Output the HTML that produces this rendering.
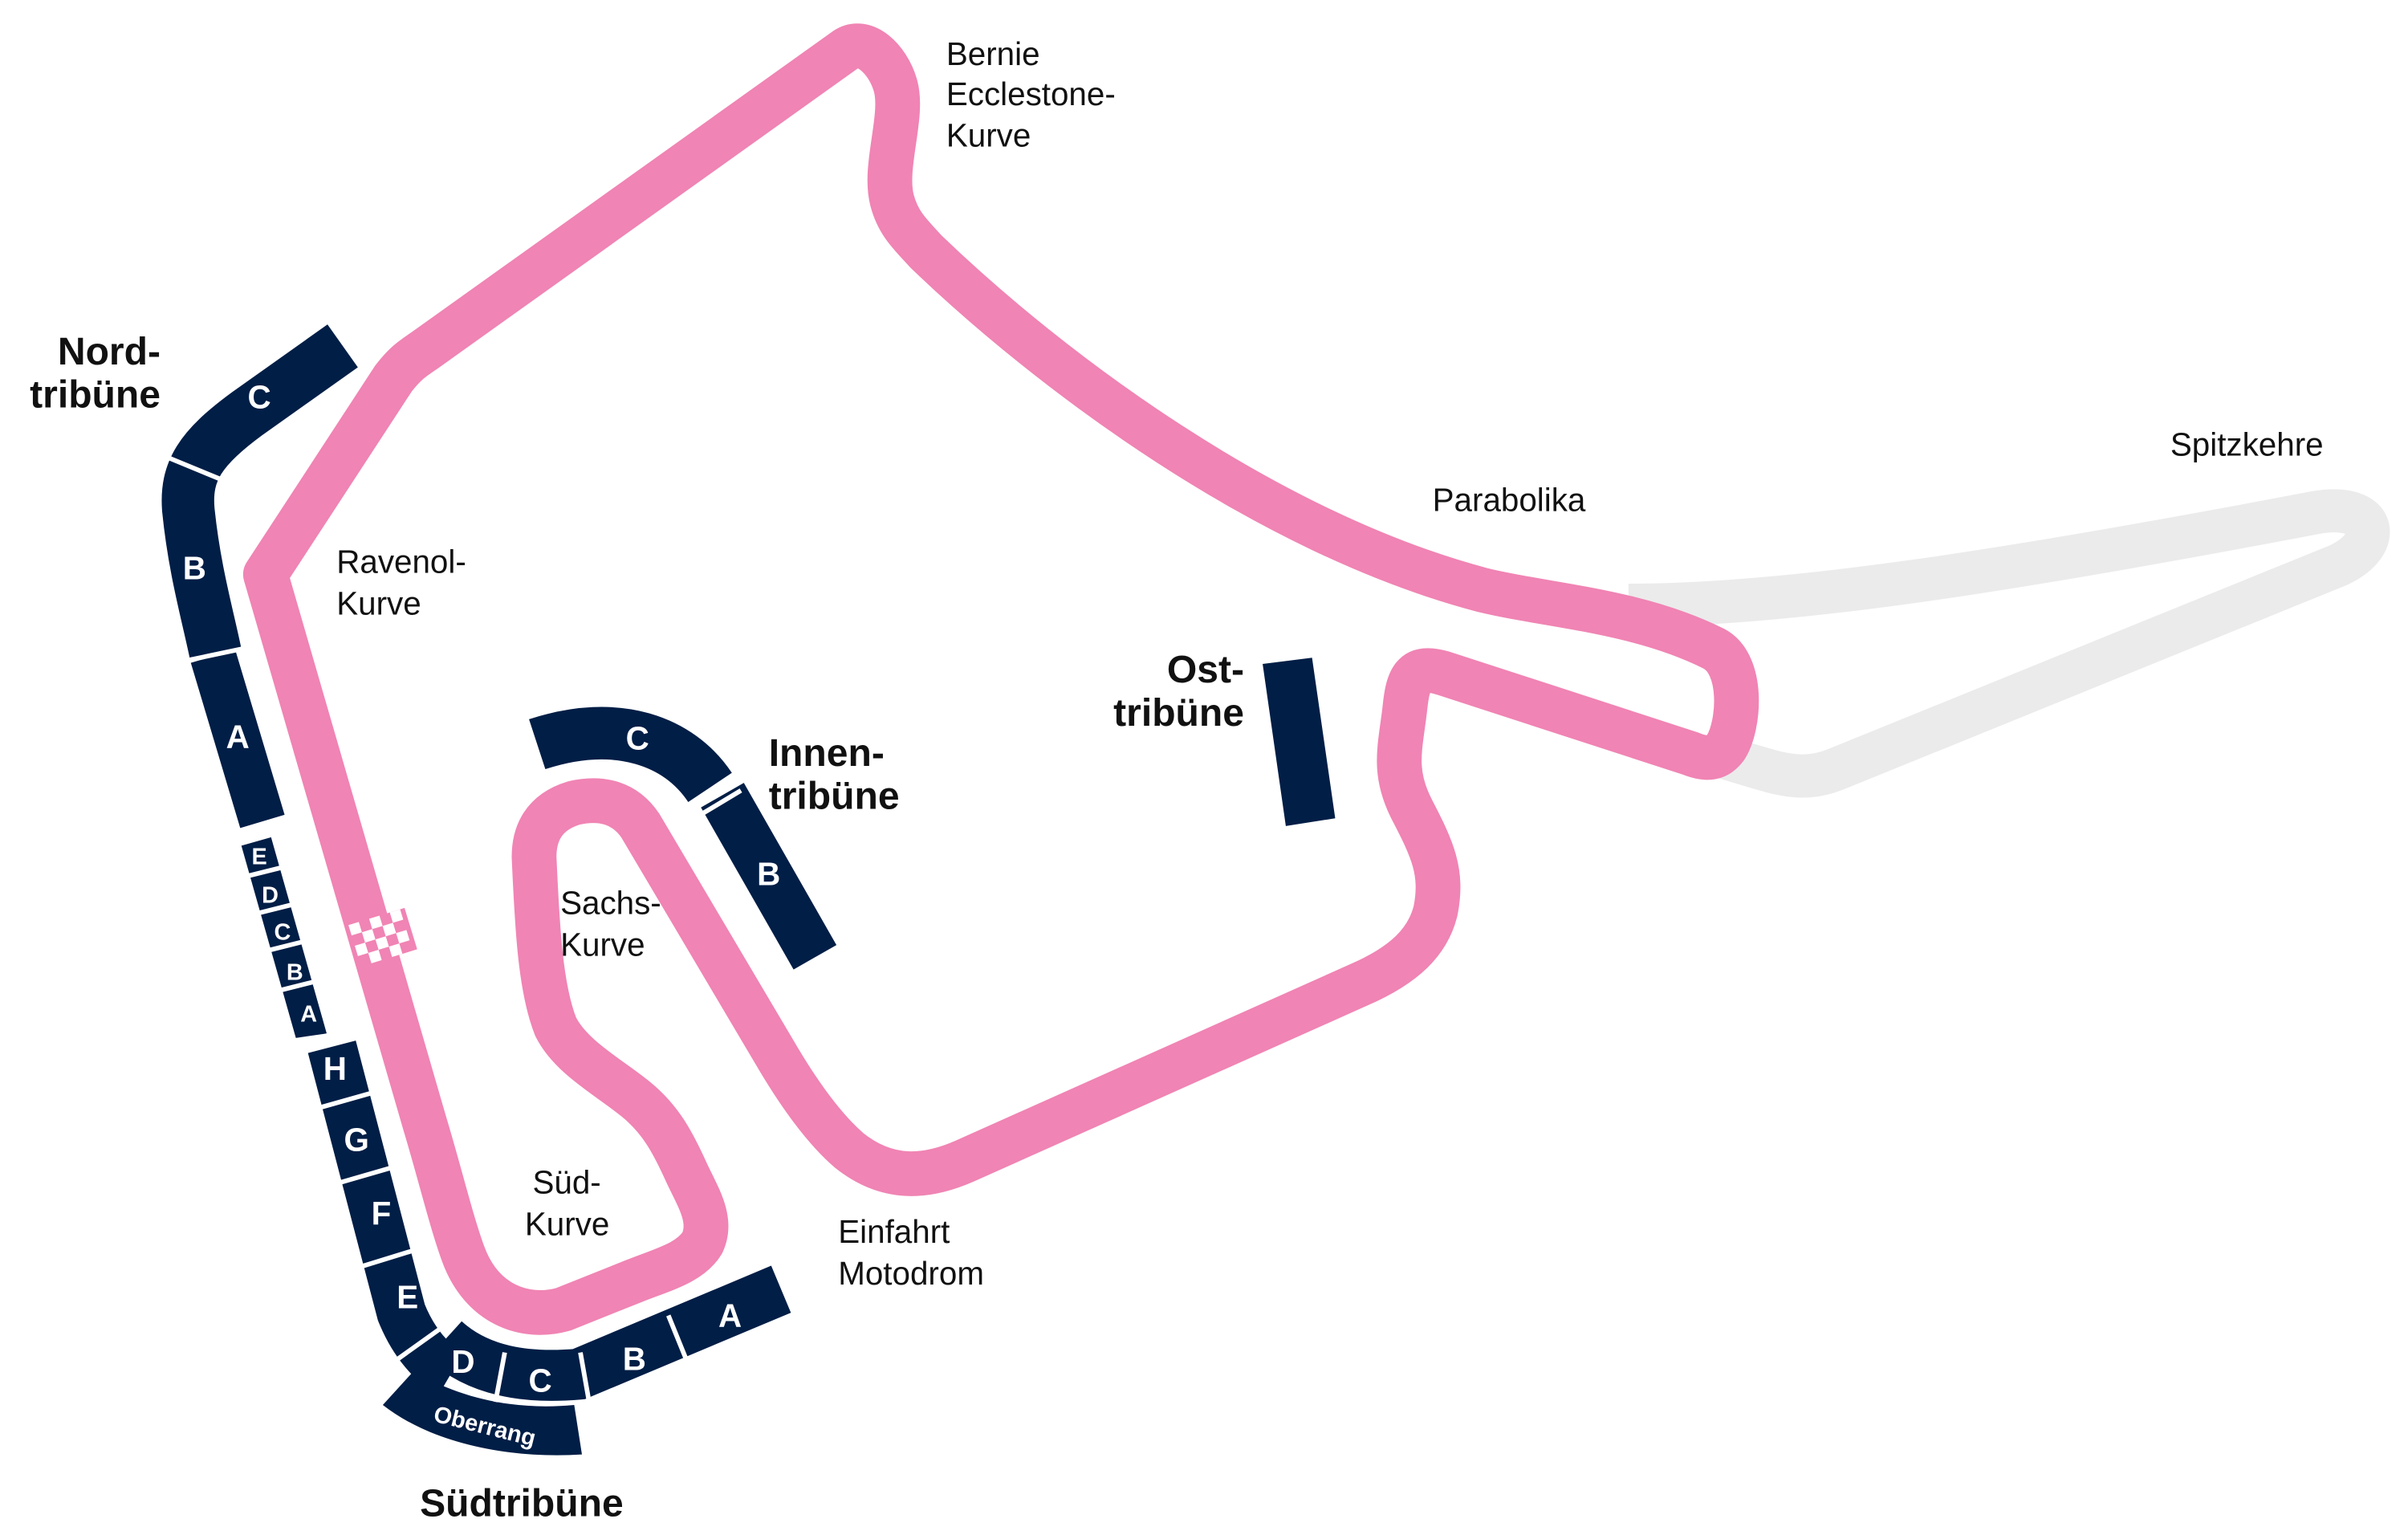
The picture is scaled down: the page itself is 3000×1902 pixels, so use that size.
<!DOCTYPE html>
<html><head><meta charset="utf-8"><style>
html,body{margin:0;padding:0;background:#fff;}
svg{display:block;}
text{font-family:"Liberation Sans",sans-serif;}
.l{font-size:21px;fill:#111;}
.t{font-size:25px;font-weight:bold;fill:#111;}
.w{font-size:21px;font-weight:bold;fill:#fff;text-anchor:middle;dominant-baseline:central;}
</style></head><body>
<svg width="3000" height="1902" viewBox="0 0 1560 989" xmlns="http://www.w3.org/2000/svg">
<rect width="1560" height="989" fill="#fff"/>
<!-- grey section -->
<path d="M1055,392 C1160,392 1300,370 1500,332 C1540,325 1545,352 1515,366 L1190,498 C1165,508 1150,500 1115,490" fill="none" stroke="#ebebeb" stroke-width="28" stroke-linejoin="round" stroke-linecap="butt"/>
<!-- pink track -->
<path d="M172,372 L255,245 C262,236 266,233 275,227 L548,32 C560,24 575,38 580,55 C586,75 572,108 578,130 C582,145 590,152 600,163 C680,240 820,345 960,382 C1000,392 1060,395 1110,420 C1130,430 1127,470 1118,484 C1112,492 1105,492 1095,488 L935,436 C915,430 912,440 910,460 C907,485 902,500 915,525 C928,550 935,565 930,590 C925,610 910,625 880,638 L625,752 C600,763 575,765 550,745 C535,732 520,712 505,687 L415,535 C405,520 390,516 372,520 C352,526 346,540 346,555 C348,600 350,640 360,665 C370,685 395,698 412,712 C428,725 436,740 445,760 C452,775 462,790 455,805 C447,818 430,822 410,830 L365,848 C340,855 312,845 300,812 C292,790 285,760 275,727 L172,372 Z" fill="none" stroke="#f084b4" stroke-width="29" stroke-linejoin="round"/>
<!-- checkered -->
<g transform="translate(248,607) rotate(-17)">
<rect x="-19" y="-14" width="38" height="28" fill="#f084b4"/>
<g fill="#fff">
<rect x="-19" y="-14" width="7" height="7"/><rect x="-5" y="-14" width="7" height="7"/><rect x="9" y="-14" width="7" height="7"/>
<rect x="-12" y="-7" width="7" height="7"/><rect x="2" y="-7" width="7" height="7"/>
<rect x="-19" y="0" width="7" height="7"/><rect x="-5" y="0" width="7" height="7"/><rect x="9" y="0" width="7" height="7"/>
<rect x="-12" y="7" width="7" height="7"/><rect x="2" y="7" width="7" height="7"/>
</g></g>
<!-- Nordtribüne -->
<path d="M222,224 L160,268 C130,290 120,305 122,330 C126,370 135,400 140,425" fill="none" stroke="#001e46" stroke-width="34"/>
<path d="M138,425 L170,532" fill="none" stroke="#001e46" stroke-width="30"/>
<path d="M166,545 L202,672" fill="none" stroke="#001e46" stroke-width="20"/>
<path d="M215,678 L260,850 C268,870 280,883 292,890" fill="none" stroke="#001e46" stroke-width="32"/>
<path d="M288,868 C310,888 340,893 375,890 L506,835" fill="none" stroke="#001e46" stroke-width="33"/>
<path d="M248,910 C280,935 330,945 377,942 L372,910 C330,914 295,904 268,888 Z" fill="#001e46"/>
<g stroke="#fff" stroke-width="3">
<line x1="108" y1="296" x2="142" y2="310"/>
<line x1="120" y1="428" x2="158" y2="420"/>
<line x1="150" y1="540" x2="190" y2="530"/>
<line x1="158" y1="568" x2="182" y2="562"/><line x1="165" y1="592" x2="189" y2="586"/>
<line x1="172" y1="616" x2="196" y2="610"/><line x1="179" y1="642" x2="203" y2="636"/>
<line x1="190" y1="674" x2="232" y2="668"/>
<line x1="205" y1="718" x2="244" y2="707"/><line x1="220" y1="766" x2="258" y2="755"/><line x1="235" y1="820" x2="274" y2="808"/>
<line x1="258" y1="880" x2="293" y2="855"/><line x1="327" y1="876" x2="321" y2="908"/><line x1="376" y1="876" x2="382" y2="910"/><line x1="433" y1="852" x2="446" y2="884"/>
</g>
<text class="w" x="168" y="257">C</text><text class="w" x="126" y="368">B</text><text class="w" x="154" y="477">A</text>
<text class="w" x="168" y="555" style="font-size:15px">E</text><text class="w" x="175" y="580" style="font-size:15px">D</text><text class="w" x="183" y="604" style="font-size:15px">C</text><text class="w" x="191" y="630" style="font-size:15px">B</text><text class="w" x="200" y="657" style="font-size:15px">A</text>
<text class="w" x="217" y="692">H</text><text class="w" x="231" y="738">G</text><text class="w" x="247" y="786">F</text><text class="w" x="264" y="840">E</text>
<text class="w" x="300" y="882">D</text><text class="w" x="350" y="894">C</text><text class="w" x="411" y="880">B</text><text class="w" x="473" y="852">A</text>
<text class="w" x="314" y="924" style="font-size:15px" transform="rotate(14 314 924)">Oberrang</text>
<!-- Innentribüne -->
<path d="M348,482 C400,465 440,480 460,510" fill="none" stroke="#001e46" stroke-width="34"/>
<path d="M468,515 L528,620" fill="none" stroke="#001e46" stroke-width="32"/>
<line x1="450" y1="530" x2="480" y2="512" stroke="#fff" stroke-width="3"/>
<text class="w" x="413" y="478">C</text><text class="w" x="498" y="566">B</text>
<!-- Osttribüne -->
<polygon points="818,430 850,426 865,530 833,535" fill="#001e46"/>
<!-- labels -->
<text class="l"><tspan x="613" y="42">Bernie</tspan><tspan x="613" y="68">Ecclestone-</tspan><tspan x="613" y="95">Kurve</tspan></text>
<text class="l"><tspan x="218" y="371">Ravenol-</tspan><tspan x="218" y="398">Kurve</tspan></text>
<text class="l" x="928" y="331">Parabolika</text>
<text class="l" x="1406" y="295">Spitzkehre</text>
<text class="l"><tspan x="363" y="592">Sachs-</tspan><tspan x="363" y="619">Kurve</tspan></text>
<text class="l"><tspan x="345" y="773">Süd-</tspan><tspan x="340" y="800">Kurve</tspan></text>
<text class="l"><tspan x="543" y="805">Einfahrt</tspan><tspan x="543" y="832">Motodrom</tspan></text>
<text class="t" text-anchor="end"><tspan x="104" y="236">Nord-</tspan><tspan x="104" y="264">tribüne</tspan></text>
<text class="t"><tspan x="498" y="496">Innen-</tspan><tspan x="498" y="524">tribüne</tspan></text>
<text class="t" text-anchor="end"><tspan x="806" y="442">Ost-</tspan><tspan x="806" y="470">tribüne</tspan></text>
<text class="t" x="272" y="982">Südtribüne</text>
</svg>
</body></html>
